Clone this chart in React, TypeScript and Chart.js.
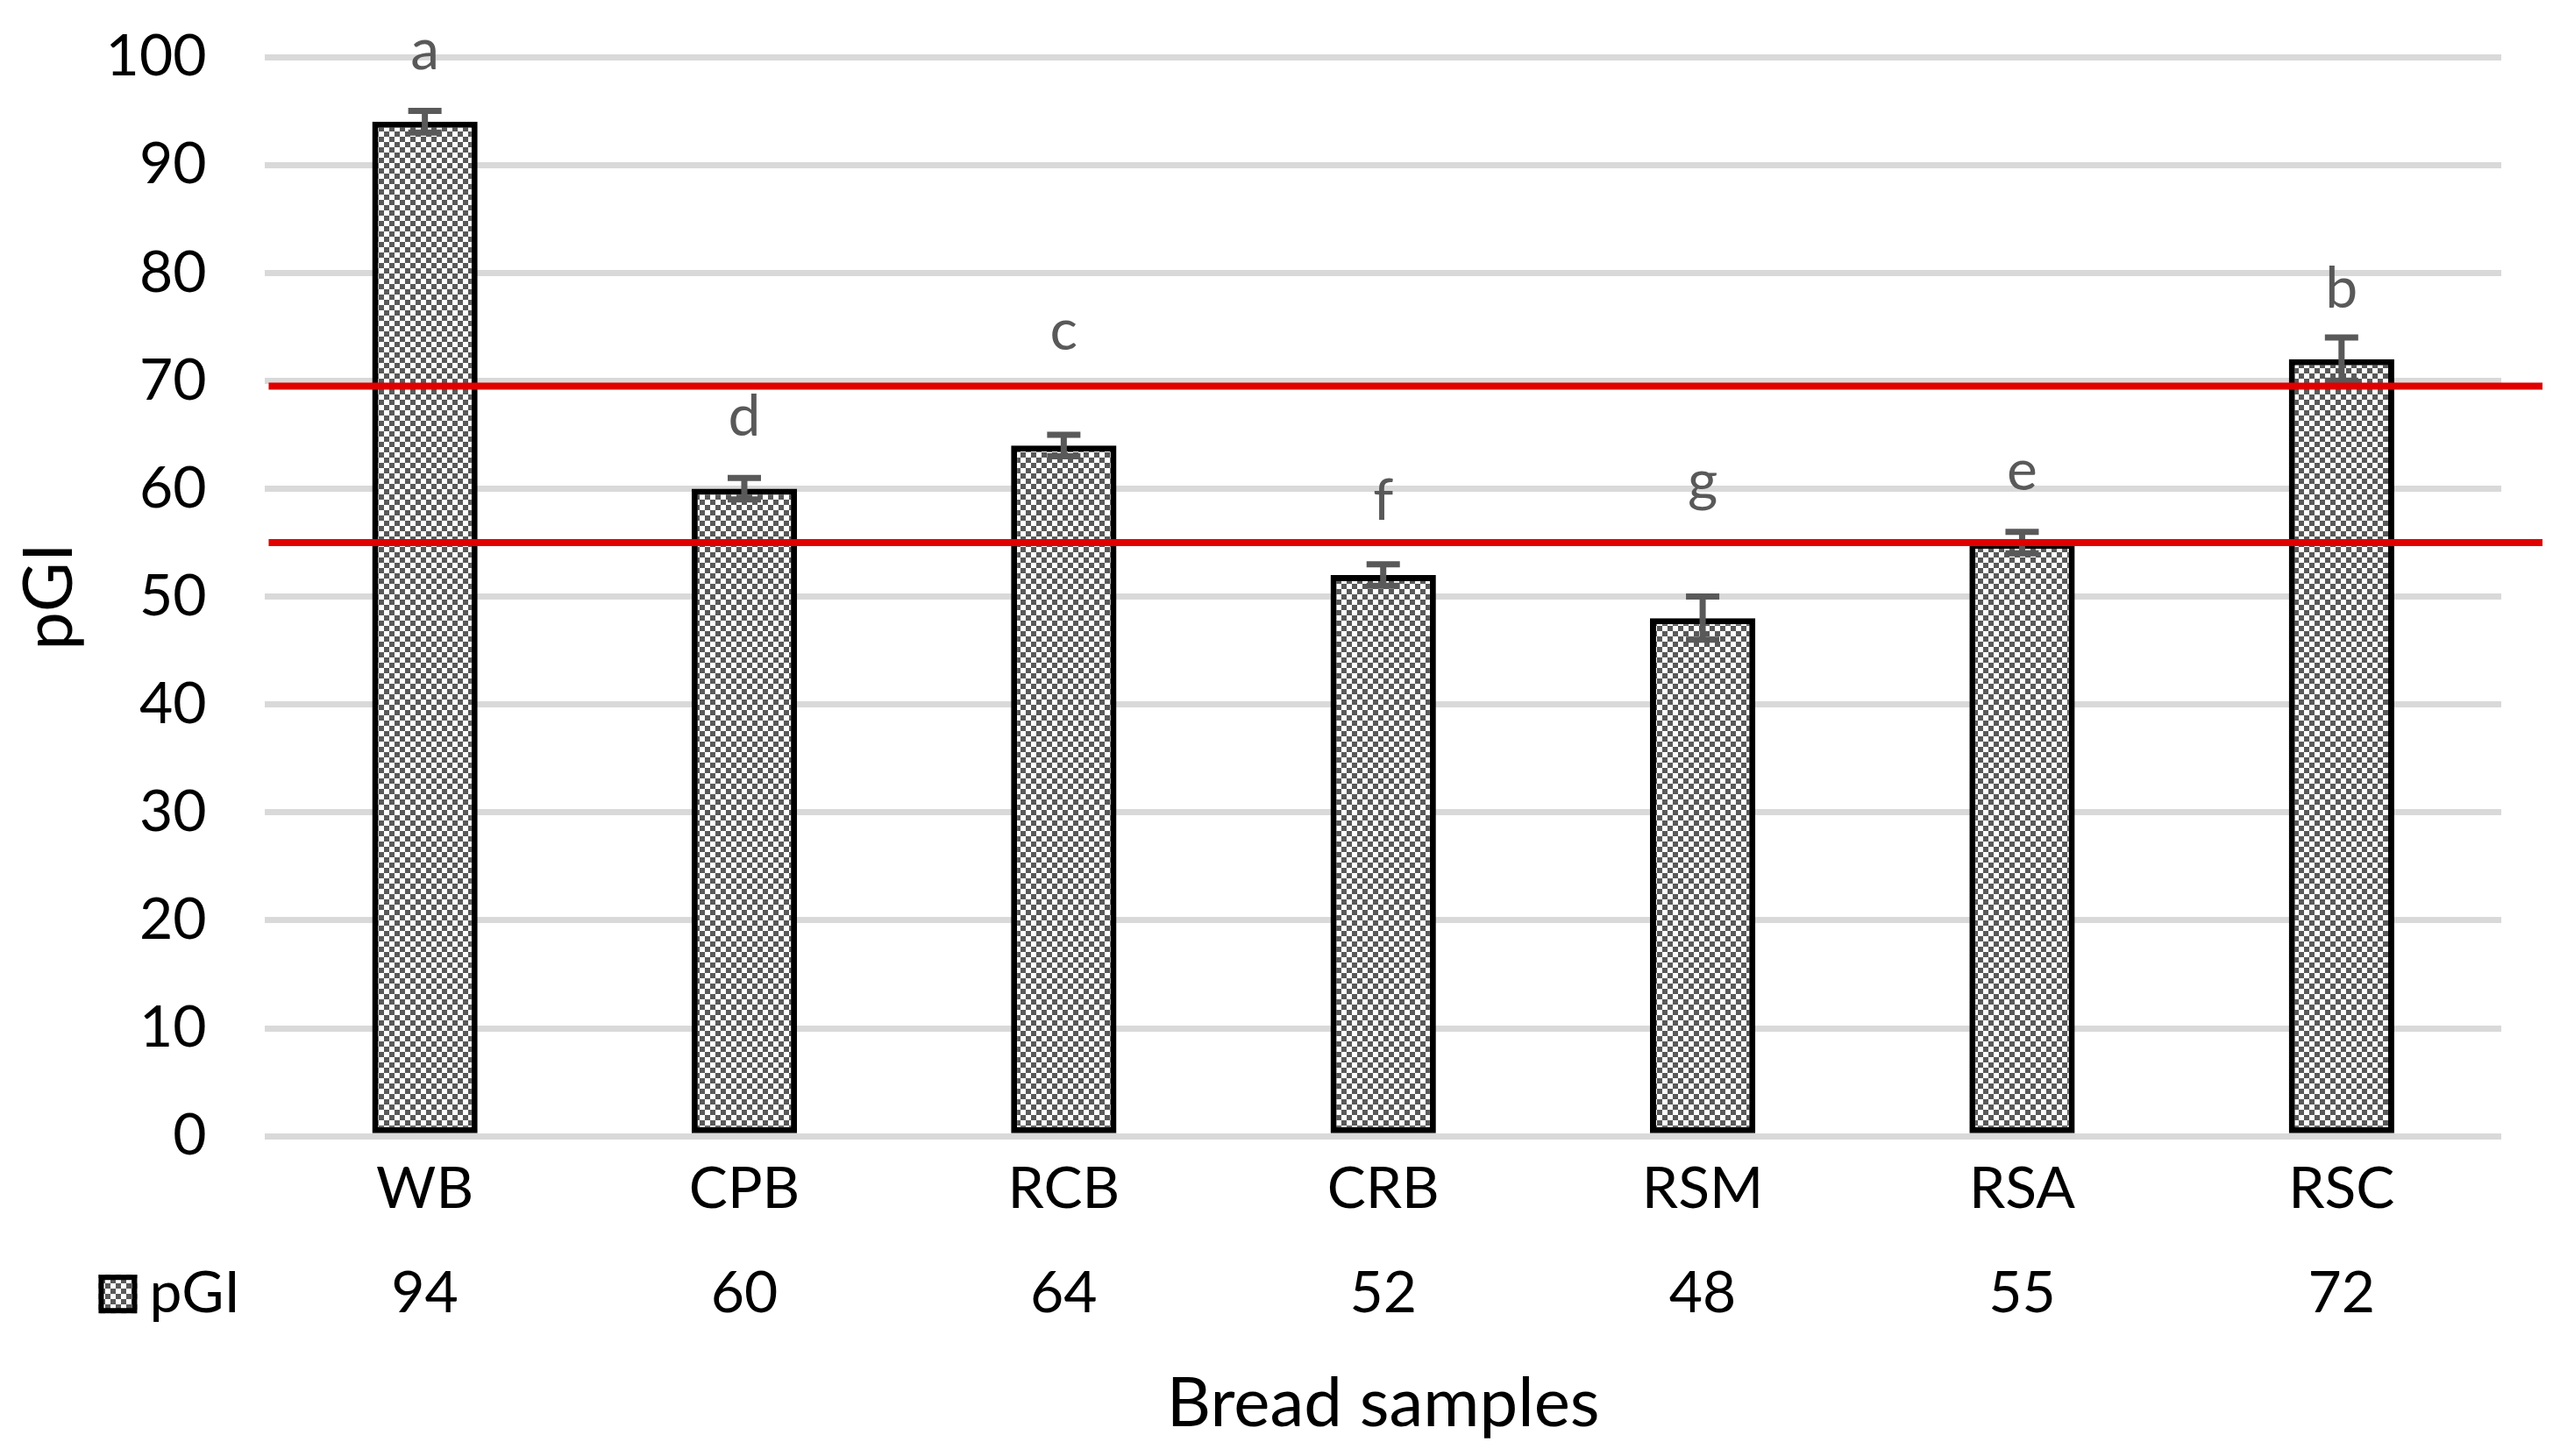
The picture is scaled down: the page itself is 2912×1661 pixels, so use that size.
import React, { useEffect, useRef } from 'react';
import { Chart, registerables } from 'chart.js';

Chart.register(...registerables);

const categories = ['WB', 'CPB', 'RCB', 'CRB', 'RSM', 'RSA', 'RSC'];
const pgiValues = [94, 60, 64, 52, 48, 55, 72];
const pgiErrors = [1, 1, 1, 1, 2, 1, 2];
const groupLetters = ['a', 'd', 'c', 'f', 'g', 'e', 'b'];
const letterLevels = [98.9, 64.9, 72.9, 57.1, 58.9, 59.9, 76.8];
const thresholdLines = [69.5, 55];
const seriesName = 'pGI';
const xTitle = 'Bread samples';
const yTitle = 'pGI';
const yMin = 0;
const yMax = 100;
const yStep = 10;

const FONT = 'Lato, "Open Sans", sans-serif';
const PATTERN_DARK = '#595959';

function makePattern(): CanvasPattern | string {
  const c = document.createElement('canvas');
  c.width = 12;
  c.height = 12;
  const g = c.getContext('2d');
  if (!g) return '#aaaaaa';
  g.fillStyle = '#ffffff';
  g.fillRect(0, 0, 12, 12);
  g.fillStyle = PATTERN_DARK;
  g.fillRect(0, 0, 6, 6);
  g.fillRect(6, 6, 6, 6);
  const p = g.createPattern(c, 'repeat');
  return p || '#aaaaaa';
}

const overlayPlugin = {
  id: 'overlay',
  afterDatasetsDraw(chart: any) {
    const ctx = chart.ctx as CanvasRenderingContext2D;
    const xs = chart.scales.x;
    const ys = chart.scales.y;
    const area = chart.chartArea;
    ctx.save();
    ctx.strokeStyle = PATTERN_DARK;
    ctx.lineWidth = 7;
    const cap = 19;
    pgiValues.forEach((v, i) => {
      const x = xs.getPixelForValue(i);
      const yT = ys.getPixelForValue(v + pgiErrors[i]);
      const yB = ys.getPixelForValue(v - pgiErrors[i]);
      ctx.beginPath();
      ctx.moveTo(x, yT);
      ctx.lineTo(x, yB);
      ctx.moveTo(x - cap, yT);
      ctx.lineTo(x + cap, yT);
      ctx.moveTo(x - cap, yB);
      ctx.lineTo(x + cap, yB);
      ctx.stroke();
    });
    ctx.fillStyle = PATTERN_DARK;
    ctx.font = `66px ${FONT}`;
    ctx.textAlign = 'center';
    ctx.textBaseline = 'alphabetic';
    groupLetters.forEach((l, i) => {
      ctx.fillText(l, xs.getPixelForValue(i), ys.getPixelForValue(letterLevels[i]));
    });
    ctx.strokeStyle = '#e00000';
    ctx.lineWidth = 8;
    thresholdLines.forEach((t) => {
      const y = ys.getPixelForValue(t);
      ctx.beginPath();
      ctx.moveTo(area.left + 4, y);
      ctx.lineTo(chart.width - 12, y);
      ctx.stroke();
    });
    ctx.restore();
  },
  afterDraw(chart: any) {
    const ctx = chart.ctx as CanvasRenderingContext2D;
    const xs = chart.scales.x;
    const area = chart.chartArea;
    const rowY = area.bottom + 180;
    ctx.save();
    ctx.fillStyle = '#000000';
    ctx.font = `66px ${FONT}`;
    ctx.textAlign = 'center';
    ctx.textBaseline = 'middle';
    pgiValues.forEach((v, i) => {
      ctx.fillText(String(v), xs.getPixelForValue(i), rowY);
    });
    const kx = area.left - 190;
    const ks = 44;
    ctx.fillStyle = chart.data.datasets[0].backgroundColor;
    ctx.fillRect(kx, rowY - ks / 2, ks, ks);
    ctx.strokeStyle = '#000000';
    ctx.lineWidth = 6;
    ctx.strokeRect(kx + 3, rowY - ks / 2 + 3, ks - 6, ks - 6);
    ctx.fillStyle = '#000000';
    ctx.textAlign = 'left';
    ctx.fillText(seriesName, kx + ks + 14, rowY);
    ctx.restore();
  },
};

export default function App() {
  const ref = useRef<HTMLCanvasElement | null>(null);

  useEffect(() => {
    if (!ref.current) return;
    const pattern = makePattern();
    const chart = new Chart(ref.current, {
      type: 'bar',
      data: {
        labels: categories,
        datasets: [
          {
            label: seriesName,
            data: pgiValues,
            backgroundColor: pattern as any,
            borderColor: '#000000',
            borderWidth: 7,
            borderSkipped: false,
            barPercentage: 0.33,
            categoryPercentage: 1,
          },
        ],
      },
      options: {
        animation: false,
        responsive: true,
        maintainAspectRatio: false,
        devicePixelRatio: 1,
        layout: { padding: { left: 11, top: 65, right: 59, bottom: 4 } },
        plugins: {
          legend: { display: false },
          tooltip: { enabled: false },
          title: { display: false },
        },
        scales: {
          x: {
            grid: { display: false, drawTicks: false },
            border: { display: false },
            ticks: { font: { family: FONT, size: 66 }, color: '#000000', padding: 21 },
            title: {
              display: true,
              text: xTitle,
              color: '#000000',
              font: { family: FONT, size: 78 },
              padding: { top: 138, bottom: 8 },
            },
          },
          y: {
            min: yMin,
            max: yMax,
            grid: { color: '#d9d9d9', lineWidth: 7, drawTicks: false },
            border: { display: false },
            afterFit(scale: any) {
              scale.paddingTop = 0;
              scale.paddingBottom = 0;
            },
            ticks: {
              stepSize: yStep,
              font: { family: FONT, size: 66 },
              color: '#000000',
              padding: 67,
            },
            title: {
              display: true,
              text: yTitle,
              color: '#000000',
              font: { family: FONT, size: 78 },
              padding: { top: -1, bottom: -50 },
            },
          },
        },
      },
      plugins: [overlayPlugin],
    });
    return () => chart.destroy();
  }, []);

  return (
    <div
      style={{
        position: 'fixed',
        left: 0,
        top: 0,
        width: '2912px',
        height: '1661px',
        background: '#ffffff',
      }}
    >
      <canvas ref={ref} />
    </div>
  );
}
